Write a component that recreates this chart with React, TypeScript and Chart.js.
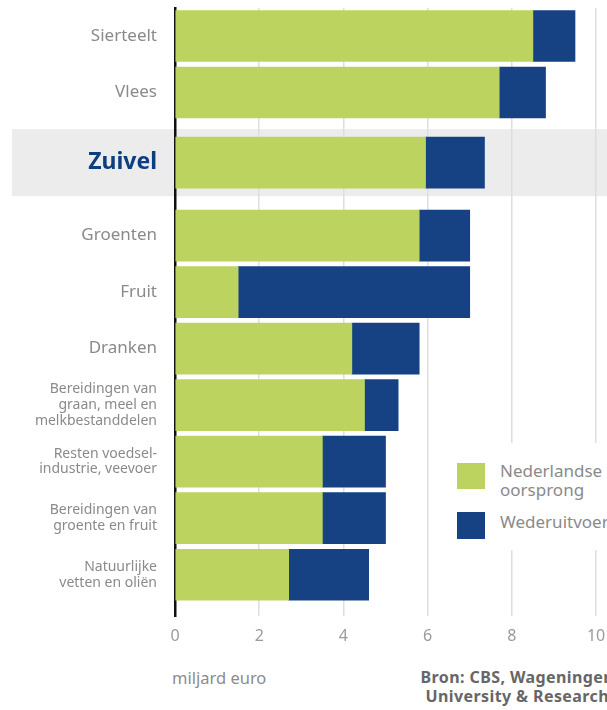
import { useEffect, useRef } from "react";
import { Chart, registerables } from "chart.js";

Chart.register(...registerables);

const categories: (string | string[])[] = [
  "Sierteelt",
  "Vlees",
  "Zuivel",
  "Groenten",
  "Fruit",
  "Dranken",
  ["Bereidingen van", "graan, meel en", "melkbestanddelen"],
  ["Resten voedsel-", "industrie, veevoer"],
  ["Bereidingen van", "groente en fruit"],
  ["Natuurlijke", "vetten en oliën"],
];
const nederlandseOorsprong = [8.5, 7.7, 5.95, 5.8, 1.5, 4.2, 4.5, 3.5, 3.5, 2.7];
const wederuitvoer = [1.0, 1.1, 1.4, 1.2, 5.5, 1.6, 0.8, 1.5, 1.5, 1.9];
const xTicks = [0, 2, 4, 6, 8, 10];
const highlighted = "Zuivel";
const seriesLabels = ["Nederlandse oorsprong", "Wederuitvoer"];
const axisTitle = "miljard euro";
const sourceLines = ["Bron: CBS, Wageningen", "University & Research"];

const FONT = "'Noto Sans', sans-serif";
const GREEN = "#bcd35f";
const BLUE = "#164283";

export default function App() {
  const ref = useRef<HTMLCanvasElement>(null);

  useEffect(() => {
    const hi = categories.indexOf(highlighted);
    const pos = categories.map(
      (_, i) => i + (i >= hi ? 0.24 : 0) + (i > hi ? 0.29 : 0)
    );
    const band = {
      id: "band",
      beforeDraw(chart: any) {
        const y = chart.scales.y;
        const ctx = chart.ctx;
        const top = y.getPixelForValue(pos[hi] - 0.593);
        const bottom = y.getPixelForValue(pos[hi] + 0.593);
        ctx.save();
        ctx.fillStyle = "#ececec";
        ctx.fillRect(12, top, chart.width - 12, bottom - top);
        ctx.restore();
      },
    };
    const chart = new Chart(ref.current!, {
      type: "bar",
      data: {
        datasets: [
          {
            label: seriesLabels[0],
            data: nederlandseOorsprong.map((v, i) => ({ x: v, y: pos[i] })),
            backgroundColor: GREEN,
            barThickness: 51,
          },
          {
            label: seriesLabels[1],
            data: wederuitvoer.map((v, i) => ({ x: v, y: pos[i] })),
            backgroundColor: BLUE,
            barThickness: 51,
          },
        ],
      },
      options: {
        indexAxis: "y",
        animation: false,
        responsive: false,
        maintainAspectRatio: false,
        layout: { padding: { top: 8, left: 0, right: 0, bottom: 0 } },
        plugins: { legend: { display: false }, tooltip: { enabled: false } },
        scales: {
          x: {
            type: "linear",
            stacked: true,
            min: 0,
            max: 10.26,
            bounds: "data",
            afterBuildTicks: (s: any) => {
              s.ticks = xTicks.map((v) => ({ value: v }));
            },
            afterFit: (s: any) => {
              s.height = 44;
              s.paddingLeft = 0;
              s.paddingRight = 0;
              s.paddingTop = 0;
              s.paddingBottom = 0;
            },
            grid: { color: "#dedede", lineWidth: 1.5, drawTicks: false },
            border: { display: false },
            ticks: {
              autoSkip: false,
              maxRotation: 0,
              color: "#9a9a9a",
              font: { family: FONT, size: 16 },
              padding: 11,
            },
          },
          y: {
            type: "linear",
            stacked: true,
            offset: false,
            reverse: true,
            min: -0.4953,
            max: 10.26,
            bounds: "data",
            grace: 0,
            z: 1,
            afterBuildTicks: (s: any) => {
              s.ticks = pos.map((v) => ({ value: v }));
            },
            afterFit: (s: any) => {
              s.width = 175;
              s.paddingLeft = 0;
              s.paddingRight = 0;
              s.paddingTop = 0;
              s.paddingBottom = 0;
            },
            grid: { display: false, drawTicks: false, offset: false },
            border: { display: true, color: "#111111", width: 2.5 },
            ticks: {
              autoSkip: false,
              padding: 18,
              callback: (_v: any, i: number) => categories[i] as any,
              color: (ctx: any) => (ctx.index === hi ? "#0d3f80" : "#8a8a8a"),
              font: (ctx: any) => {
                const i = ctx.index;
                if (i === hi) return { family: FONT, size: 23, weight: "bold" };
                if (Array.isArray(categories[i]))
                  return { family: FONT, size: 14, lineHeight: 1.12 };
                return { family: FONT, size: 17 };
              },
            },
          },
        },
      },
      plugins: [band],
    } as any);
    return () => chart.destroy();
  }, []);

  return (
    <div
      style={{
        position: "absolute",
        left: 0,
        top: 0,
        width: 607,
        height: 710,
        overflow: "hidden",
        background: "#ffffff",
        fontFamily: FONT,
      }}
    >
      <canvas
        ref={ref}
        width={607}
        height={660}
        style={{ position: "absolute", left: 0, top: 0, width: 607, height: 660 }}
      />
      <div
        style={{
          position: "absolute",
          left: 440,
          top: 443,
          width: 180,
          height: 107,
          background: "#ffffff",
        }}
      >
        <div
          style={{
            position: "absolute",
            left: 17,
            top: 20,
            width: 28,
            height: 26,
            background: GREEN,
          }}
        />
        <div
          style={{
            position: "absolute",
            left: 60,
            top: 17.5,
            width: 110,
            fontSize: 17,
            lineHeight: "19.5px",
            color: "#8a8a8a",
          }}
        >
          {seriesLabels[0]}
        </div>
        <div
          style={{
            position: "absolute",
            left: 17,
            top: 69,
            width: 28,
            height: 27,
            background: BLUE,
          }}
        />
        <div
          style={{
            position: "absolute",
            left: 60,
            top: 69,
            fontSize: 17,
            lineHeight: "19.5px",
            color: "#8a8a8a",
            whiteSpace: "nowrap",
          }}
        >
          {seriesLabels[1]}
        </div>
      </div>
      <div
        style={{
          position: "absolute",
          left: 172,
          top: 668,
          fontSize: 16.5,
          lineHeight: "20px",
          color: "#8c8c8c",
          whiteSpace: "nowrap",
        }}
      >
        {axisTitle}
      </div>
      <div
        style={{
          position: "absolute",
          right: -7,
          top: 668,
          fontSize: 16,
          lineHeight: "19px",
          fontWeight: 700,
          letterSpacing: 0.4,
          color: "#666666",
          textAlign: "center",
          whiteSpace: "nowrap",
        }}
      >
        {sourceLines.map((l) => (
          <div key={l}>{l}</div>
        ))}
      </div>
    </div>
  );
}
